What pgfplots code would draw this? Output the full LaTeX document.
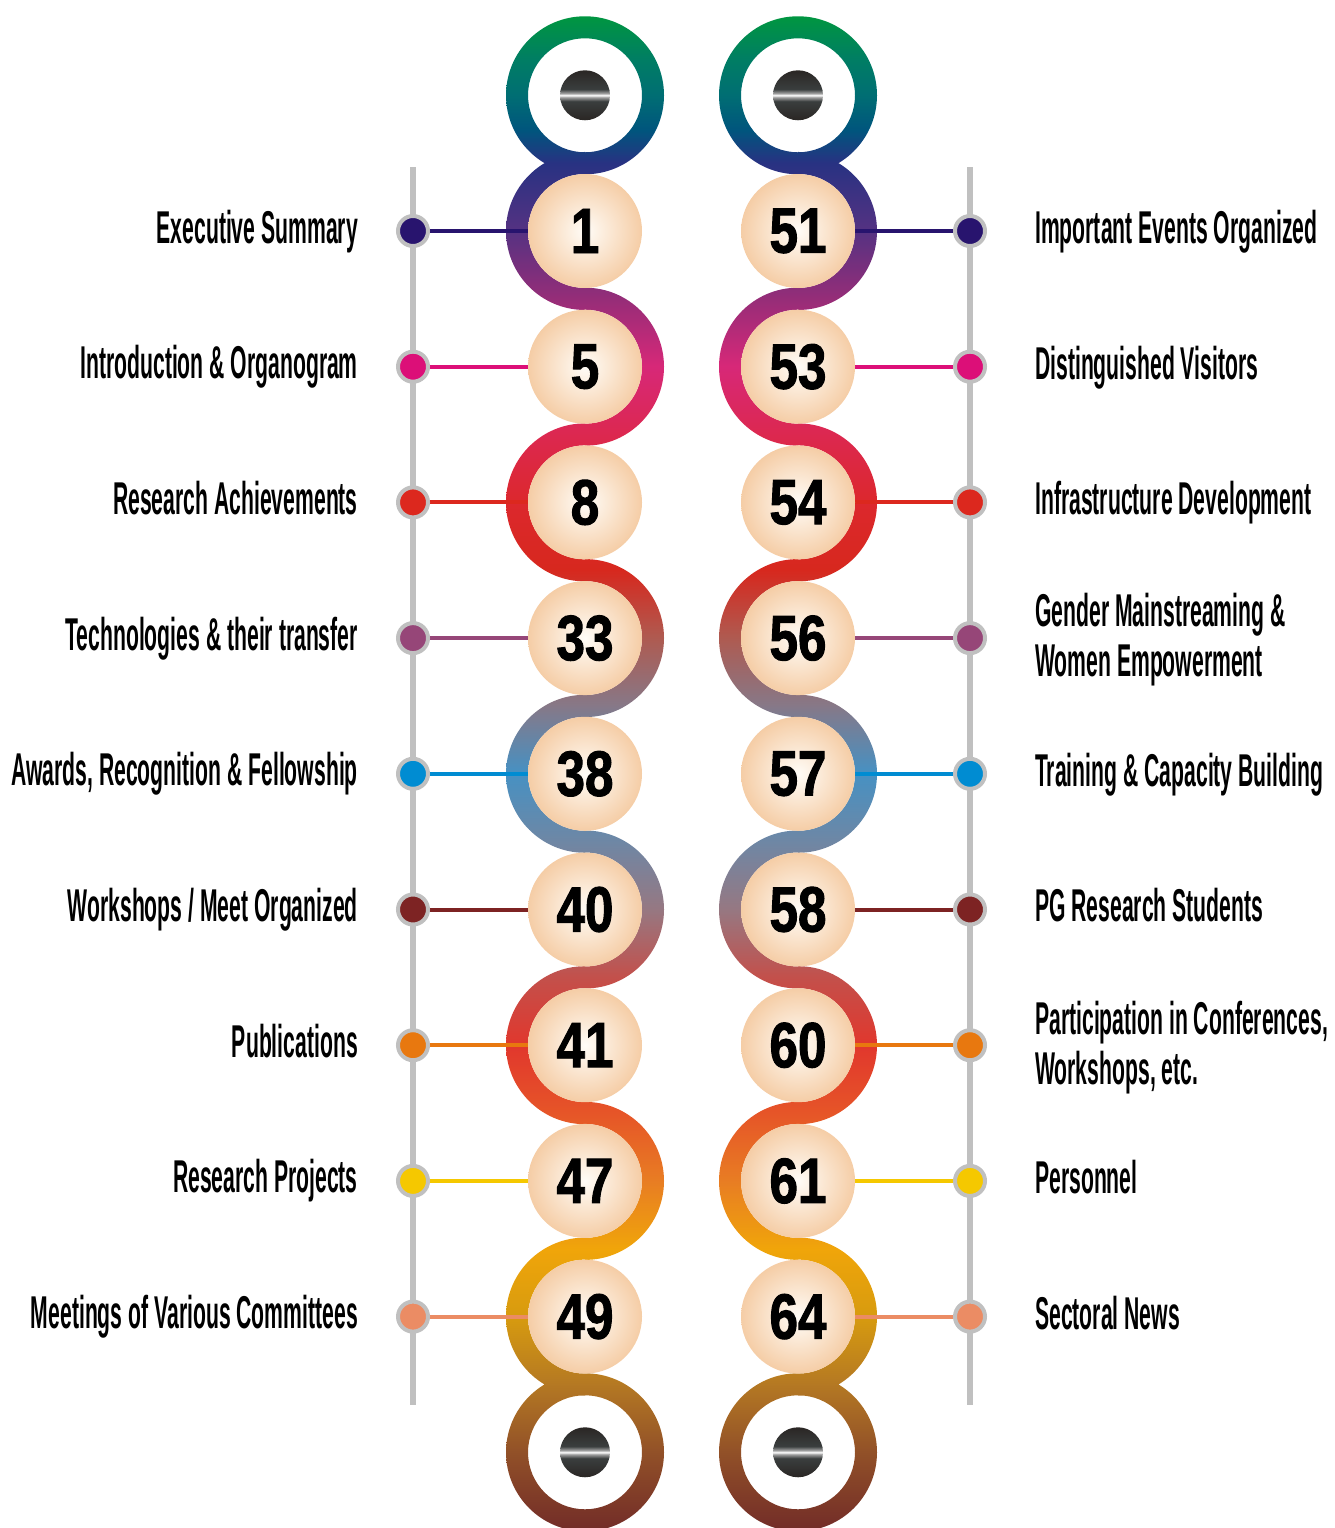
\documentclass[border=0pt]{standalone}
\usepackage{fontspec}
\setmainfont{Liberation Sans}
\newfontfamily\labelfont{Liberation Sans Bold}[FakeStretch=0.46]
\newfontfamily\numfont{Liberation Sans Bold}[FakeStretch=0.8, FakeBold=1.5]
\usepackage{pgfplots}
\usepackage{pgfplotstable}
\pgfplotsset{compat=1.18}

% tube gradient, bottom to top
\definecolor{g00}{RGB}{115,45,40}
\definecolor{g01}{RGB}{145,80,40}
\definecolor{g02}{RGB}{180,120,35}
\definecolor{g03}{RGB}{215,155,15}
\definecolor{g04}{RGB}{240,165,10}
\definecolor{g05}{RGB}{232,125,35}
\definecolor{g06}{RGB}{230,85,40}
\definecolor{g07}{RGB}{225,55,45}
\definecolor{g08}{RGB}{195,80,75}
\definecolor{g09}{RGB}{150,120,130}
\definecolor{g10}{RGB}{110,135,165}
\definecolor{g11}{RGB}{70,145,195}
\definecolor{g12}{RGB}{135,120,135}
\definecolor{g13}{RGB}{175,90,80}
\definecolor{g14}{RGB}{215,40,30}
\definecolor{g15}{RGB}{220,40,45}
\definecolor{g16}{RGB}{220,40,80}
\definecolor{g17}{RGB}{215,40,120}
\definecolor{g18}{RGB}{150,45,120}
\definecolor{g19}{RGB}{85,50,130}
\definecolor{g20}{RGB}{40,50,130}
\definecolor{g21}{RGB}{0,85,125}
\definecolor{g22}{RGB}{0,110,115}
\definecolor{g23}{RGB}{0,125,100}
\definecolor{g24}{RGB}{0,150,64}

\pgfdeclareverticalshading{tube}{1335pt}{%
  color(0pt)=(g00); color(75pt)=(g01); color(143pt)=(g02); color(211pt)=(g03);
  color(279pt)=(g04); color(347pt)=(g05); color(415pt)=(g06); color(483pt)=(g07);
  color(551pt)=(g08); color(619pt)=(g09); color(687pt)=(g10); color(755pt)=(g11);
  color(823pt)=(g12); color(891pt)=(g13); color(958pt)=(g14); color(1026pt)=(g15);
  color(1094pt)=(g16); color(1162pt)=(g17); color(1229pt)=(g18); color(1297pt)=(g19);
  color(1365pt)=(g20); color(1398pt)=(g21); color(1433pt)=(g22); color(1468pt)=(g23);
  color(1512pt)=(g24); color(1528pt)=(g24)}

\definecolor{sDark}{RGB}{42,38,36}
\definecolor{sMid}{RGB}{58,62,62}
\definecolor{sLight}{RGB}{160,160,160}
\pgfdeclareverticalshading{screw}{100bp}{%
  color(0bp)=(sDark); color(25bp)=(sDark); color(44bp)=(sMid); color(48bp)=(sLight);
  color(50bp)=(white); color(52bp)=(sLight); color(56bp)=(sMid); color(75bp)=(sDark);
  color(100bp)=(sDark)}

\definecolor{peachin}{RGB}{255,252,247}
\definecolor{peachout}{RGB}{245,205,166}
\definecolor{lgray}{RGB}{192,192,192}
\definecolor{c1}{RGB}{40,20,110}
\definecolor{c2}{RGB}{220,15,120}
\definecolor{c3}{RGB}{220,40,30}
\definecolor{c4}{RGB}{150,70,120}
\definecolor{c5}{RGB}{0,140,210}
\definecolor{c6}{RGB}{125,35,35}
\definecolor{c7}{RGB}{232,120,15}
\definecolor{c8}{RGB}{245,200,0}
\definecolor{c9}{RGB}{235,140,100}

\tikzset{
  ball/.style={circle, inner sep=0pt, minimum size=114pt,
    inner color=peachin, outer color=peachout, anchor=center,
    font=\numfont\fontsize{64}{64}\selectfont},
  lbl/.style={inner sep=0pt, font=\labelfont\fontsize{46}{50}\selectfont},
}

\protected\def\gmwe{Gender Mainstreaming \&\\Women Empowerment}
\protected\def\pcw{Participation in Conferences,\\Workshops, etc.}

\begin{document}
% rb = baseline of the last line of the right-hand title
\pgfplotstableread[col sep=semicolon]{
y;lp;ll;rp;rl;rb
231;1;Executive Summary;51;Important Events Organized;243
366.7;5;Introduction \& Organogram;53;Distinguished Visitors;379
502.4;8;Research Achievements;54;Infrastructure Development;514
638.1;33;Technologies \& their transfer;56;\gmwe;676
773.8;38;Awards, Recognition \& Fellowship;57;Training \& Capacity Building;786
909.5;40;Workshops / Meet Organized;58;PG Research Students;921
1045.2;41;Publications;60;\pcw;1084
1180.9;47;Research Projects;61;Personnel;1193
1316.6;49;Meetings of Various Committees;64;Sectoral News;1329
}\toc
\begin{tikzpicture}
\useasboundingbox (0pt,0pt) rectangle (1335pt,1528pt);
\begin{scope}[x=1pt,y=1pt]
  \begin{scope}
    \clip \foreach \cx/\cy/\a in {585/1432.7/90, 585/1432.7/-90,
        585/1297/90, 585/1161.3/-90, 585/1025.6/90, 585/889.9/-90, 585/754.2/90,
        585/618.5/-90, 585/482.8/90, 585/347.1/-90, 585/211.4/90,
        585/75.7/90, 585/75.7/-90,
        798/1432.7/90, 798/1432.7/-90,
        798/1297/-90, 798/1161.3/90, 798/1025.6/-90, 798/889.9/90, 798/754.2/-90,
        798/618.5/90, 798/482.8/-90, 798/347.1/90, 798/211.4/-90,
        798/75.7/90, 798/75.7/-90}
      { (\cx,\cy) ++(\a:79) arc[start angle=\a, end angle=\a+180, radius=79]
        -- ++(\a:22) arc[start angle=\a+180, end angle=\a, radius=57] -- cycle };
    \node[inner sep=0pt, outer sep=0pt, anchor=south west] at (0,0) {\pgfuseshading{tube}};
  \end{scope}
  \foreach \cx/\cy in {585/1432.7, 798/1432.7, 585/75.7, 798/75.7}
    \shade[shading=screw] (\cx,\cy) circle[radius=25];
\end{scope}

\begin{axis}[
  at={(0pt,0pt)}, anchor=south west,
  x=1pt, y=1pt, xmin=0, xmax=1335, ymin=0, ymax=1528, y dir=reverse,
  hide axis, clip=false, unbounded coords=jump,
  conn/.style={#1, line width=4pt, mark=*, mark size=15pt,
    mark options={draw=lgray, fill=#1, line width=4pt}},
]
\addplot[lgray, line width=6pt] coordinates {(413,167) (413,1405) (nan,nan) (970,167) (970,1405)};

\addplot[conn=c1] coordinates {(413,231) (585,231) (nan,nan) (798,231) (970,231)};
\addplot[conn=c2] coordinates {(413,366.7) (585,366.7) (nan,nan) (798,366.7) (970,366.7)};
\addplot[conn=c3] coordinates {(413,502.4) (585,502.4) (nan,nan) (798,502.4) (970,502.4)};
\addplot[conn=c4] coordinates {(413,638.1) (585,638.1) (nan,nan) (798,638.1) (970,638.1)};
\addplot[conn=c5] coordinates {(413,773.8) (585,773.8) (nan,nan) (798,773.8) (970,773.8)};
\addplot[conn=c6] coordinates {(413,909.5) (585,909.5) (nan,nan) (798,909.5) (970,909.5)};
\addplot[conn=c7] coordinates {(413,1045.2) (585,1045.2) (nan,nan) (798,1045.2) (970,1045.2)};
\addplot[conn=c8] coordinates {(413,1180.9) (585,1180.9) (nan,nan) (798,1180.9) (970,1180.9)};
\addplot[conn=c9] coordinates {(413,1316.6) (585,1316.6) (nan,nan) (798,1316.6) (970,1316.6)};

% page-number balls
\addplot[draw=none, mark=none, point meta=explicit symbolic,
  nodes near coords={\pgfplotspointmeta},
  every node near coord/.append style={ball}]
  table[x expr=585, y=y, meta=lp] {\toc};
\addplot[draw=none, mark=none, point meta=explicit symbolic,
  nodes near coords={\pgfplotspointmeta},
  every node near coord/.append style={ball}]
  table[x expr=798, y=y, meta=rp] {\toc};

% chapter titles
\addplot[draw=none, mark=none, point meta=explicit symbolic,
  nodes near coords={\pgfplotspointmeta},
  every node near coord/.append style={lbl, anchor=base east, align=right}]
  table[x expr=358, y expr=\thisrow{y}+12, meta=ll] {\toc};
\addplot[draw=none, mark=none, point meta=explicit symbolic,
  nodes near coords={\pgfplotspointmeta},
  every node near coord/.append style={lbl, anchor=base west, align=left}]
  table[x expr=1035, y=rb, meta=rl] {\toc};
\end{axis}
\end{tikzpicture}
\end{document}
